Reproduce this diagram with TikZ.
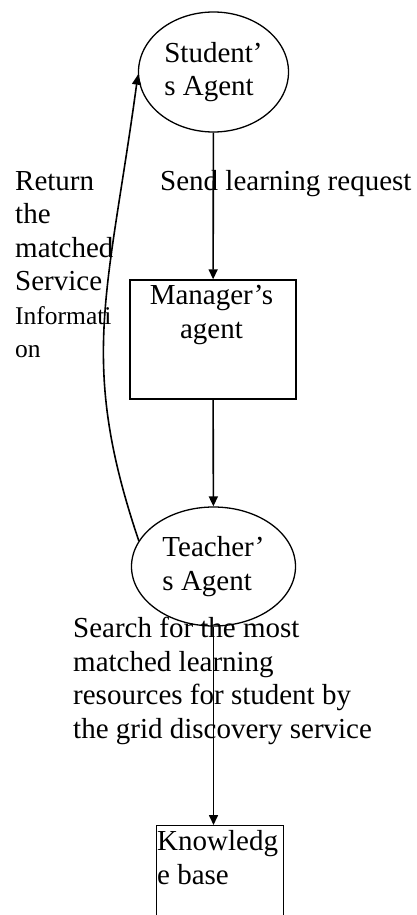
\documentclass[tikz,border=0pt]{standalone}
\usepackage{fontspec}
\setmainfont{Liberation Serif}
\usetikzlibrary{positioning}
\usetikzlibrary{shapes.geometric}
\usetikzlibrary{arrows.meta}

\begin{document}
\begin{tikzpicture}[x=1pt,y=-1pt,
  font=\fontsize{29}{33.5}\selectfont,
  agent/.style={draw,ellipse,line width=1.3pt,inner sep=0pt,align=left},
  box/.style={draw,rectangle,line width=1.4pt,inner sep=0pt},
  arr/.style={line width=1.6pt,-{Triangle[length=10pt,width=9pt]}},
  txt/.style={inner sep=0pt,align=left}]
 \clip[use as bounding box] (0,0) rectangle (416,915);
 % agents and boxes
 \node[agent,minimum width=150pt,minimum height=120pt] (student) at (213.5,72) {Student'\\s Agent};
 \node[box,minimum width=166pt,minimum height=119pt] (manager) at (213,339.5) {};
 \node[txt,align=center,anchor=base] (mantext) at (211.5,338) {Manager's\\agent};
 \node[agent,minimum width=164pt,minimum height=119pt] (teacher) at (213.5,566.5) {Teacher'\\s Agent};
 \node[box,minimum width=127pt,minimum height=135pt,anchor=north west] (knowledge) at (156,825) {};
 \node[txt,anchor=base west] (kbtext) at (157,884) {Knowledg\\e base};
 % labels
 \node[txt,anchor=base west] (send) at (160,190) {Send learning request};
 \node[txt,anchor=base west] (ret) at (15,357.5) {Return\\the\\matched\\Service\\{\fontsize{25.5}{33.5}\selectfont Informati}\\{\fontsize{25.5}{33.5}\selectfont on}};
 \node[txt,anchor=base west] (search) at (73,738) {Search for the most\\matched learning\\resources for student by\\the grid discovery service};
 % arrows
 \draw[arr] (student) -- (manager);
 \draw[arr] (manager) -- (teacher);
 \draw[arr] (teacher) -- (teacher |- knowledge.north);
 \draw[arr] (teacher.161) .. controls (78,361) and (108,295) .. (student.182);
\end{tikzpicture}
\end{document}
